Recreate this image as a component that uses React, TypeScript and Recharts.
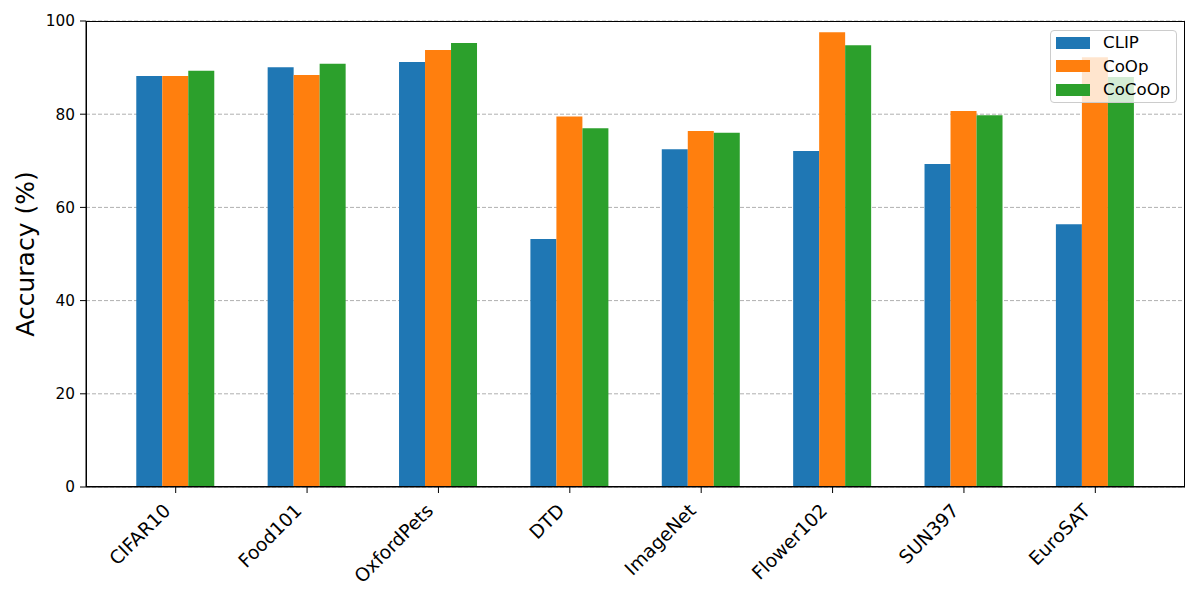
import React from "react"
import { BarChart, Bar, XAxis, YAxis, CartesianGrid } from "recharts"

const datasets = ["CIFAR10", "Food101", "OxfordPets", "DTD", "ImageNet", "Flower102", "SUN397", "EuroSAT"]
const clipAcc = [88.2, 90.1, 91.2, 53.2, 72.5, 72.1, 69.3, 56.4]
const coopAcc = [88.2, 88.4, 93.8, 79.5, 76.4, 97.6, 80.7, 92.2]
const cocoopAcc = [89.3, 90.8, 95.3, 77.0, 76.0, 94.8, 79.8, 88.0]
const yTicks = [0, 20, 40, 60, 80, 100]

const seriesColors = { CLIP: "#1f77b4", CoOp: "#ff7f0e", CoCoOp: "#2ca02c" }

const data = datasets.map((name, i) => ({
  name,
  CLIP: clipAcc[i],
  CoOp: coopAcc[i],
  CoCoOp: cocoopAcc[i],
}))

const FONT = "DejaVu Sans, sans-serif"

// plot box (matplotlib axes area)
const PLOT = { left: 86, top: 21, right: 1185, bottom: 487 }

// rotated category labels, right-aligned to the tick like matplotlib's ha="right"
const RotatedTick = ({ x, y, payload }: any) => (
  <g transform={`translate(${x - 14},${y + 7})`}>
    <text
      textAnchor="end"
      transform="rotate(-45)"
      dy="0.75em"
      fontSize={18.67}
      fontFamily={FONT}
      fill="#000"
    >
      {payload.value}
    </text>
  </g>
)

const LegendBox = () => (
  <div
    style={{
      position: "absolute",
      left: 1050,
      top: 30,
      background: "rgba(255,255,255,0.8)",
      border: "1px solid #cccccc",
      borderRadius: 4,
      padding: "0px 6px 0px 5px",
      fontFamily: FONT,
      fontSize: 16.67,
      lineHeight: "17px",
    }}
  >
    {Object.entries(seriesColors).map(([label, color]) => (
      <div key={label} style={{ display: "flex", alignItems: "center", height: 23.5 }}>
        <span style={{ width: 34, height: 12, background: color, marginRight: 13 }} />
        <span>{label}</span>
      </div>
    ))}
  </div>
)

export default function App() {
  return (
    <div style={{ position: "absolute", left: 0, top: 0, width: 1200, height: 600, background: "#fff" }}>
      <BarChart
        width={1200}
        height={600}
        data={data}
        margin={{ top: PLOT.top, right: 1200 - PLOT.right, left: PLOT.left - 60, bottom: 0 }}
        barCategoryGap="20%"
        barGap={0}
      >
        <CartesianGrid vertical={false} stroke="#b0b0b0" strokeDasharray="4 2" />
        <XAxis
          dataKey="name"
          height={600 - PLOT.bottom}
          padding={{ left: 24, right: 24 }}
          interval={0}
          axisLine={{ stroke: "#000" }}
          tickLine={{ stroke: "#000" }}
          tickSize={6}
          tickMargin={2}
          tick={<RotatedTick />}
        />
        <YAxis
          width={60}
          domain={[0, 100]}
          ticks={yTicks}
          allowDataOverflow
          axisLine={{ stroke: "#000" }}
          tickLine={{ stroke: "#000" }}
          tickSize={6}
          tickMargin={5}
          tick={{ fontSize: 15.3, fill: "#000", fontFamily: FONT }}
          label={{
            value: "Accuracy (%)",
            angle: -90,
            position: "insideLeft",
            offset: -1,
            style: { fontSize: 25, fill: "#000", fontFamily: FONT, textAnchor: "middle" },
          }}
        />
        <Bar dataKey="CLIP" fill={seriesColors.CLIP} isAnimationActive={false} />
        <Bar dataKey="CoOp" fill={seriesColors.CoOp} isAnimationActive={false} />
        <Bar dataKey="CoCoOp" fill={seriesColors.CoCoOp} isAnimationActive={false} />
      </BarChart>
      {/* axes frame (top/right spines) */}
      <div
        style={{
          position: "absolute",
          left: PLOT.left,
          top: PLOT.top,
          width: PLOT.right - PLOT.left,
          height: PLOT.bottom - PLOT.top,
          border: "1px solid #000",
          boxSizing: "border-box",
          pointerEvents: "none",
        }}
      />
      <LegendBox />
    </div>
  )
}
